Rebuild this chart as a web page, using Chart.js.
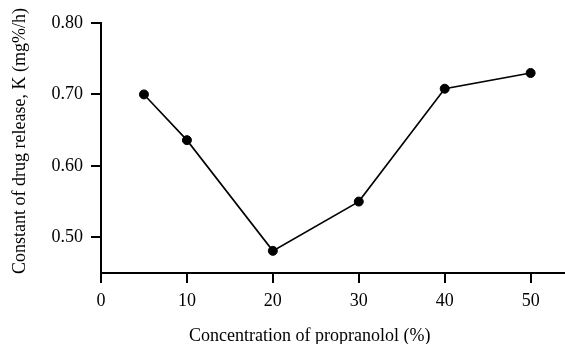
<!DOCTYPE html>
<html>
<head>
<meta charset="utf-8">
<script src="https://cdn.jsdelivr.net/npm/chart.js@4"></script>
<style>
  html, body { margin: 0; padding: 0; background: #fff; }
  #wrap { width: 565px; height: 344px; }
</style>
</head>
<body>
<div id="wrap"><canvas id="releaseChart" width="565" height="344"></canvas></div>
<script>
const concentration = [5, 10, 20, 30, 40, 50];
const releaseK = [0.700, 0.636, 0.481, 0.550, 0.708, 0.730];
const xTicks = [0, 10, 20, 30, 40, 50];
const yTicks = [0.50, 0.60, 0.70, 0.80];

const xTitle = 'Concentration of propranolol (%)';
const yTitle = 'Constant of drug release, K (mg%/h)';

const serif = '"Liberation Serif", "Times New Roman", serif';

// axis titles drawn by hand, they sit a bit off the plot centre in the original
const axisTitles = {
    id: 'axisTitles',
    afterDraw(chart) {
        const xs = chart.scales.x;
        const c = chart.ctx;
        const mid = (xs.getPixelForValue(xTicks[0]) + xs.getPixelForValue(xTicks[xTicks.length - 1])) / 2;
        c.save();
        c.font = '18px ' + serif;
        c.fillStyle = '#000';
        c.textAlign = 'center';
        c.textBaseline = 'middle';
        c.fillText(xTitle, mid - 6, 336);
        c.translate(20, 141);
        c.rotate(-Math.PI / 2);
        c.fillText(yTitle, 0, 0);
        c.restore();
    }
};

const ctx = document.getElementById('releaseChart').getContext('2d');

const chart = new Chart(ctx, {
    type: 'scatter',
    data: {
        datasets: [{
            data: concentration.map((c, i) => ({x: c, y: releaseK[i]})),
            showLine: true,
            borderColor: '#000',
            borderWidth: 1.6,
            pointBackgroundColor: '#000',
            pointBorderColor: '#000',
            pointRadius: 4.5,
            pointBorderWidth: 1
        }]
    },
    options: {
        responsive: false,
        animation: false,
        layout: {
            autoPadding: false,
            padding: {top: 23, right: 0, bottom: 0, left: 0}
        },
        scales: {
            x: {
                type: 'linear',
                min: 0,
                max: 54,
                afterBuildTicks: scale => {
                    scale.ticks = xTicks.map(v => ({value: v}));
                },
                afterFit: scale => {
                    scale.height = 71;
                    scale.paddingRight = 0;
                    scale.paddingLeft = 0;
                },
                grid: {
                    drawOnChartArea: false,
                    drawTicks: true,
                    tickLength: 10,
                    color: '#000',
                    lineWidth: 2
                },
                border: {display: true, color: '#000', width: 2},
                ticks: {
                    color: '#000',
                    padding: 7,
                    maxRotation: 0,
                    font: {family: serif, size: 18}
                }
            },
            y: {
                min: 0.45,
                max: 0.80,
                afterBuildTicks: scale => {
                    scale.ticks = yTicks.map(v => ({value: v}));
                },
                afterFit: scale => {
                    scale.width = 101;
                },
                grid: {
                    drawOnChartArea: false,
                    drawTicks: true,
                    tickLength: 10,
                    color: '#000',
                    lineWidth: 2
                },
                border: {display: true, color: '#000', width: 2},
                ticks: {
                    color: '#000',
                    padding: 8,
                    font: {family: serif, size: 18},
                    callback: v => v.toFixed(2)
                }
            }
        },
        plugins: {
            legend: {display: false},
            tooltip: {enabled: false}
        }
    },
    plugins: [axisTitles]
});
</script>
</body>
</html>
